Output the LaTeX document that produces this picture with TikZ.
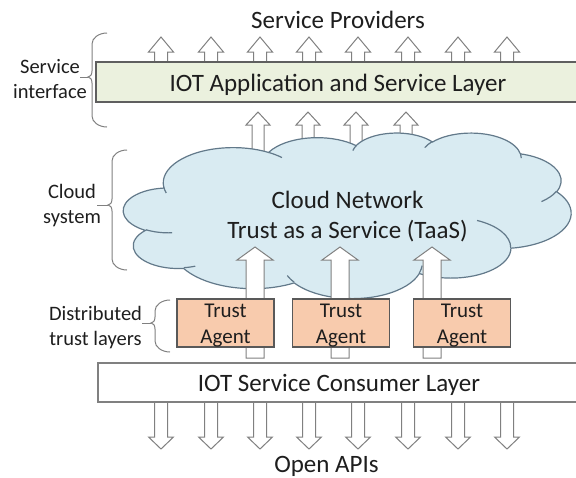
\documentclass[tikz,border=0pt]{standalone}
\usepackage{fontspec}
\setmainfont{Carlito}
\definecolor{txt}{HTML}{1E1E1E}
\definecolor{edge}{HTML}{808080}
\definecolor{appedge}{HTML}{5F5F5F}
\definecolor{appfill}{HTML}{EBF1DE}
\definecolor{agentfill}{HTML}{F8CBAD}
\definecolor{agentedge}{HTML}{595959}
\definecolor{cloudfill}{HTML}{D9EBF2}
\definecolor{cloudedge}{HTML}{62798A}

% block arrow: cx, tip y, wing y, tail y, half shaft, half head
\newcommand\blkarrow[6]{\draw[blockarrow] (#1,#2) -- ({#1+#6},#3) -- ({#1+#5},#3) -- ({#1+#5},#4) -- ({#1-#5},#4) -- ({#1-#5},#3) -- ({#1-#6},#3) -- cycle;}

% curly brace: spine x, top y, bottom y, end x, middle y
\newcommand\brc[5]{\draw[bracestyle] (#4,#2) .. controls ({#1+0.45*(#4-#1)},#2) and (#1,{#2+5}) .. (#1,{#2+11}) -- (#1,{#5-6}) .. controls (#1,{#5-2}) and ({#1-2},#5) .. ({#1-4},#5) .. controls ({#1-2},#5) and (#1,{#5+2}) .. (#1,{#5+6}) -- (#1,{#3-11}) .. controls (#1,{#3-5}) and ({#1+0.45*(#4-#1)},#3) .. (#4,#3);}

% cloud arcs: convert visual angles to parametric ones
\newcommand\cldang[5]{%
  \pgfmathsetmacro\cldtS{atan2((#2)*sin(#4),(#3)*cos(#4))}%
  \pgfmathsetmacro\cldtE{atan2((#2)*sin((#4)+(#5)),(#3)*cos((#4)+(#5)))}%
  \pgfmathsetmacro\cldtE{ifthenelse(\cldtE<\cldtS,\cldtE+360,\cldtE)}%
  \expandafter\xdef\csname cldS#1\endcsname{\cldtS}%
  \expandafter\xdef\csname cldE#1\endcsname{\cldtE}%
}
\cldang{A}{67.53}{91.90}{-190.4875}{123.7805}
\cldang{B}{53.33}{72.67}{-144.1024}{89.9452}
\cldang{C}{43.65}{59.45}{-145.8079}{99.7230}
\cldang{D}{48.57}{65.95}{-130.9861}{117.2417}
\cldang{E}{53.33}{72.73}{-78.7089}{109.0269}
\cldang{F}{67.75}{92.20}{-46.2673}{130.2690}
\cldang{G}{57.85}{78.67}{0.6250}{114.0333}
\cldang{H}{67.52}{92.15}{22.4516}{115.1726}
\cldang{I}{77.20}{105.43}{66.2426}{75.7110}
\cldang{J}{43.60}{59.18}{-274.9421}{146.7356}
\cldang{K}{43.45}{59.45}{-246.8285}{152.5189}
\cldang{a}{43.45}{59.45}{86.7420}{26.4295}
\cldang{b}{43.60}{59.18}{73.6105}{11.4475}
\cldang{c}{67.52}{92.15}{137.6242}{14.0811}
\cldang{d}{67.52}{92.15}{6.4533}{15.9984}
\cldang{e}{57.85}{78.67}{-70.2924}{70.9174}
\cldang{f}{53.33}{72.73}{30.3180}{27.7515}
\cldang{g}{48.57}{65.95}{-13.7443}{14.8661}
\cldang{h}{48.57}{65.95}{-149.1815}{18.1969}
\cldang{i}{43.65}{59.45}{-163.4943}{17.6864}
\cldang{j}{67.53}{91.90}{-66.7070}{12.3194}
\cldang{k}{67.53}{91.90}{157.6544}{11.8582}

\tikzset{
  bigtxt/.style={font=\fontsize{25}{30}\selectfont, text=txt, inner sep=0pt},
  lbl/.style={font=\fontsize{20.5}{25}\selectfont, text=txt, inner sep=0pt, align=center},
  agenttxt/.style={font=\fontsize{21}{26}\selectfont, text=txt, inner sep=0pt, align=center},
  layer/.style={font=\fontsize{25}{30}\selectfont, text=txt, inner sep=0pt, text height=18pt, text depth=0pt},
  agent/.style={draw=agentedge, fill=agentfill, line width=1.2pt, minimum width=97, minimum height=48, inner sep=0pt},
  blockarrow/.style={draw=edge, fill=white, line width=1pt, line join=miter},
  bracestyle/.style={draw=edge, line width=1pt},
  cloudshape/.style={draw=cloudedge, fill=cloudfill, line width=1.2pt},
  cloudline/.style={draw=cloudedge, line width=1.2pt}
}

\begin{document}
\begin{tikzpicture}[x=1pt,y=-1pt]
\clip (0,0) rectangle (576,477);

% arrows from the cloud up to the application layer (behind the cloud)
\foreach \cx in {258,308,356,406} {\blkarrow{\cx}{112}{125}{175}{6}{12}}

% cloud
\begin{scope}[shift={(123.5,132.5)}, x=1.03588pt, y=-0.38310pt]
  \path[cloudshape] (39.00,143.70)
    arc[start angle=\cldSA, end angle=\cldEA, x radius=67.53, y radius=91.90]
    arc[start angle=\cldSB, end angle=\cldEB, x radius=53.33, y radius=72.67]
    arc[start angle=\cldSC, end angle=\cldEC, x radius=43.65, y radius=59.45]
    arc[start angle=\cldSD, end angle=\cldED, x radius=48.57, y radius=65.95]
    arc[start angle=\cldSE, end angle=\cldEE, x radius=53.33, y radius=72.73]
    arc[start angle=\cldSF, end angle=\cldEF, x radius=67.75, y radius=92.20]
    arc[start angle=\cldSG, end angle=\cldEG, x radius=57.85, y radius=78.67]
    arc[start angle=\cldSH, end angle=\cldEH, x radius=67.52, y radius=92.15]
    arc[start angle=\cldSI, end angle=\cldEI, x radius=77.20, y radius=105.43]
    arc[start angle=\cldSJ, end angle=\cldEJ, x radius=43.60, y radius=59.18]
    arc[start angle=\cldSK, end angle=\cldEK, x radius=43.45, y radius=59.45]
    -- cycle;
  \path[cloudline]
    (46.93,261.77) arc[start angle=\cldSa, end angle=\cldEa, x radius=43.45, y radius=59.45]
    (69.28,348.99) arc[start angle=\cldSb, end angle=\cldEb, x radius=43.60, y radius=59.18]
    (164.78,390.90) arc[start angle=\cldSc, end angle=\cldEc, x radius=67.52, y radius=92.15]
    (288.27,347.51) arc[start angle=\cldSd, end angle=\cldEd, x radius=67.52, y radius=92.15]
    (341.29,229.54) arc[start angle=\cldSe, end angle=\cldEe, x radius=57.85, y radius=78.67]
    (417.98,153.54) arc[start angle=\cldSf, end angle=\cldEf, x radius=53.33, y radius=72.73]
    (383.24,54.26) arc[start angle=\cldSg, end angle=\cldEg, x radius=48.57, y radius=65.95]
    (290.78,39.52) arc[start angle=\cldSh, end angle=\cldEh, x radius=48.57, y radius=65.95]
    (221.41,47.20) arc[start angle=\cldSi, end angle=\cldEi, x radius=43.65, y radius=59.45]
    (140.00,51.92) arc[start angle=\cldSj, end angle=\cldEj, x radius=67.53, y radius=91.90]
    (41.27,157.89) arc[start angle=\cldSk, end angle=\cldEk, x radius=67.53, y radius=91.90];
\end{scope}
\node[bigtxt, align=center, anchor=north] (cloudtxt) at (347.5,190.7) {Cloud Network\\Trust as a Service (TaaS)};

% arrows from the trust agents into the cloud
\foreach \cx in {255,340,432} {\blkarrow{\cx}{247}{260}{358}{9}{18}}

% trust agents
\node[agent] (ag1) at (225.5,323) {};
\node[agent] (ag2) at (341,323) {};
\node[agent] (ag3) at (462,323) {};
\node[agenttxt, anchor=north] (ag1t) at (225.5,303.7) {Trust\\Agent};
\node[agenttxt, anchor=north] (ag2t) at (341,303.7) {Trust\\Agent};
\node[agenttxt, anchor=north] (ag3t) at (462,303.7) {Trust\\Agent};

% application layer and service providers
\foreach \cx in {161,211,260,309,358,408,458,507} {\blkarrow{\cx}{37}{52}{63}{6.5}{12.5}}
\node[layer, draw=appedge, line width=1.6pt, fill=appfill, minimum width=484, minimum height=40] (app) at (338,82) {IOT Application and Service Layer};
\node[bigtxt, anchor=base] (sp) at (338,28) {Service Providers};

% consumer layer and open APIs
\foreach \cx in {161,211,260,309,358,408,458,507} {\blkarrow{\cx}{449}{437}{401}{6.5}{12.5}}
\node[layer, draw=edge, line width=1.4pt, fill=white, minimum width=482, minimum height=39] (cons) at (339,382.5) {IOT Service Consumer Layer};
\node[bigtxt, anchor=base] (apis) at (326.5,472) {Open APIs};

% side labels with braces
\node[lbl, anchor=north] (lsi) at (50,58.8) {Service\\interface};
\node[lbl, anchor=north] (lcs) at (72,183.8) {Cloud\\system};
\node[lbl, anchor=north] (ldt) at (95.5,305.8) {Distributed\\trust layers};

\brc{92}{33}{127}{107}{77}
\brc{112}{150}{270}{127}{205}
\brc{155}{300}{352}{170}{323}

\coordinate (si0) at (80,77);  \coordinate (si1) at (88,77);
\coordinate (cs0) at (97,205); \coordinate (cs1) at (108,205);
\coordinate (dt0) at (142,323); \coordinate (dt1) at (151,323);
\draw[bracestyle] (si0) -- (si1);
\draw[bracestyle] (cs0) -- (cs1);
\draw[bracestyle] (dt0) -- (dt1);
\end{tikzpicture}
\end{document}
